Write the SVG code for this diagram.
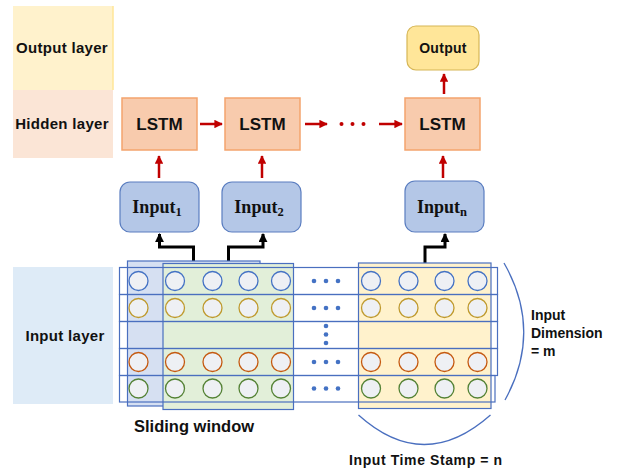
<svg xmlns="http://www.w3.org/2000/svg" width="617" height="469" viewBox="0 0 617 469">
<defs>
<marker id="ar" viewBox="0 0 10 10" refX="9" refY="5" markerWidth="3.4" markerHeight="3.4" orient="auto" markerUnits="strokeWidth"><path d="M0,0 L10,5 L0,10 z" fill="#c00000"/></marker>
<marker id="ab" viewBox="0 0 10 10" refX="9" refY="5" markerWidth="3" markerHeight="3" orient="auto" markerUnits="strokeWidth"><path d="M0,0 L10,5 L0,10 z" fill="#000"/></marker>
<style>
.lbl{font-family:"Liberation Sans",Arial,sans-serif;font-weight:bold;fill:#111}
.inp{font-family:"Liberation Serif","Times New Roman",serif;font-weight:bold;fill:#111}
.lstm{fill:#f8cbad;stroke:#f4a46d;stroke-width:1.5}
.ibox{fill:#b4c7e7;stroke:#5a7dc0;stroke-width:1.2}
.red{stroke:#c00000;stroke-width:2.5;fill:none;marker-end:url(#ar)}
.blk{stroke:#000;stroke-width:3;fill:none;marker-end:url(#ab)}
.row{fill:none;stroke:#4a6fbf;stroke-width:1.2}
.win{stroke:#4a6fbf;stroke-width:1.2}
.c{fill:#eef0f4;stroke-width:1.3}
.c1{stroke:#4472c4}.c2{stroke:#bf9a2e}.c4{stroke:#c55a11}.c5{stroke:#548235}
.dot{fill:#4472c4}
.brace{fill:none;stroke:#4a6fbf;stroke-width:1.3}
</style>
</defs>

<g id="bands">
<rect x="13" y="6" width="100" height="84" fill="#fff2cc"/>
<line x1="113" y1="6" x2="113" y2="90" stroke="#ffe699" stroke-width="1.5"/>
<rect x="13" y="90" width="100" height="68" fill="#fbe5d6"/>
<rect x="13" y="267" width="100" height="137" fill="#deebf7"/>
<text class="lbl" x="62" y="53" font-size="15" letter-spacing="0.3" text-anchor="middle">Output layer</text>
<text class="lbl" x="62" y="129" font-size="15" letter-spacing="0.3" text-anchor="middle">Hidden layer</text>
<text class="lbl" x="65" y="341" font-size="15" letter-spacing="0.3" text-anchor="middle">Input layer</text>
</g>

<g id="output">
<rect x="407" y="26" width="72" height="44" rx="9" fill="#ffe699" stroke="#d6b656" stroke-width="1.2"/>
<text class="lbl" x="443" y="53" font-size="14" letter-spacing="0.3" text-anchor="middle">Output</text>
</g>

<g id="lstm1"><rect class="lstm" x="122" y="98" width="75" height="52"/><text class="lbl" x="159.5" y="130" font-size="17" text-anchor="middle">LSTM</text></g>
<g id="lstm2"><rect class="lstm" x="225" y="98" width="75" height="52"/><text class="lbl" x="262.5" y="130" font-size="17" text-anchor="middle">LSTM</text></g>
<g id="lstm3"><rect class="lstm" x="405" y="98" width="75" height="52"/><text class="lbl" x="442.5" y="130" font-size="17" text-anchor="middle">LSTM</text></g>

<g id="input1"><rect class="ibox" x="120" y="182" width="79" height="50" rx="10"/><text class="inp" x="157" y="213" font-size="18" text-anchor="middle">Input<tspan font-size="12.5" dy="3">1</tspan></text></g>
<g id="input2"><rect class="ibox" x="222" y="182" width="79" height="50" rx="10"/><text class="inp" x="259" y="213" font-size="18" text-anchor="middle">Input<tspan font-size="12.5" dy="3">2</tspan></text></g>
<g id="inputn"><rect class="ibox" x="405" y="181" width="79" height="51" rx="10"/><text class="inp" x="442" y="213" font-size="18" text-anchor="middle">Input<tspan font-size="12.5" dy="3">n</tspan></text></g>

<g id="connectors">
<line class="red" x1="200" y1="124" x2="222" y2="124"/>
<line class="red" x1="305" y1="124" x2="327" y2="124"/>
<line class="red" x1="379" y1="124" x2="402" y2="124"/>
<line class="red" x1="444" y1="94" x2="444" y2="74"/>
<line class="red" x1="159" y1="178" x2="159" y2="156"/>
<line class="red" x1="262" y1="178" x2="262" y2="156"/>
<line class="red" x1="443" y1="178" x2="443" y2="156"/>
<polyline class="blk" points="193.5,261 193.5,247 159.5,247 159.5,234"/>
<polyline class="blk" points="228.5,263 228.5,247 263,247 263,234"/>
<polyline class="blk" points="425,263 425,247 445,247 445,234"/>
</g>
<g id="ellipsis" fill="#c00000">
<circle cx="341.5" cy="124" r="2"/><circle cx="352.5" cy="124" r="2"/><circle cx="363.5" cy="124" r="2"/>
</g>

<g id="grid">
<rect class="win" x="127.5" y="261" width="132.5" height="145" fill="#d6e0f2"/>
<rect class="win" x="163" y="263.5" width="130.5" height="146" fill="#e2efd9"/>
<rect class="win" x="358.5" y="263" width="132.5" height="145.5" fill="#fff2cc"/>
<rect class="row" x="119.5" y="267.5" width="378" height="27"/>
<rect class="row" x="119.5" y="294.5" width="378" height="27"/>
<rect class="row" x="119.5" y="321.5" width="378" height="27"/>
<rect class="row" x="119.5" y="348.5" width="378" height="27"/>
<rect class="row" x="119.5" y="375.5" width="375.5" height="26.5"/>

<g class="c c1">
<circle cx="138.5" cy="281" r="9.5"/><circle cx="175" cy="281" r="9.5"/><circle cx="212.5" cy="281" r="9.5"/><circle cx="248.5" cy="281" r="9.5"/><circle cx="281" cy="281" r="9.5"/>
<circle cx="371" cy="281" r="9.5"/><circle cx="408.5" cy="281" r="9.5"/><circle cx="444.5" cy="281" r="9.5"/><circle cx="477.5" cy="281" r="9.5"/>
</g>
<g class="c c2">
<circle cx="138.5" cy="308" r="9.5"/><circle cx="175" cy="308" r="9.5"/><circle cx="212.5" cy="308" r="9.5"/><circle cx="248.5" cy="308" r="9.5"/><circle cx="281" cy="308" r="9.5"/>
<circle cx="371" cy="308" r="9.5"/><circle cx="408.5" cy="308" r="9.5"/><circle cx="444.5" cy="308" r="9.5"/><circle cx="477.5" cy="308" r="9.5"/>
</g>
<g class="c c4">
<circle cx="138.5" cy="362" r="9.5"/><circle cx="175" cy="362" r="9.5"/><circle cx="212.5" cy="362" r="9.5"/><circle cx="248.5" cy="362" r="9.5"/><circle cx="281" cy="362" r="9.5"/>
<circle cx="371" cy="362" r="9.5"/><circle cx="408.5" cy="362" r="9.5"/><circle cx="444.5" cy="362" r="9.5"/><circle cx="477.5" cy="362" r="9.5"/>
</g>
<g class="c c5">
<circle cx="138.5" cy="388.5" r="9.5"/><circle cx="175" cy="388.5" r="9.5"/><circle cx="212.5" cy="388.5" r="9.5"/><circle cx="248.5" cy="388.5" r="9.5"/><circle cx="281" cy="388.5" r="9.5"/>
<circle cx="371" cy="388.5" r="9.5"/><circle cx="408.5" cy="388.5" r="9.5"/><circle cx="444.5" cy="388.5" r="9.5"/><circle cx="477.5" cy="388.5" r="9.5"/>
</g>
<g class="dot">
<circle cx="314" cy="281" r="2.3"/><circle cx="326" cy="281" r="2.3"/><circle cx="338" cy="281" r="2.3"/>
<circle cx="314" cy="308" r="2.3"/><circle cx="326" cy="308" r="2.3"/><circle cx="338" cy="308" r="2.3"/>
<circle cx="326" cy="326" r="2.3"/><circle cx="326" cy="334.5" r="2.3"/><circle cx="326" cy="343" r="2.3"/>
<circle cx="314" cy="362" r="2.3"/><circle cx="326" cy="362" r="2.3"/><circle cx="338" cy="362" r="2.3"/>
<circle cx="314" cy="388.5" r="2.3"/><circle cx="326" cy="388.5" r="2.3"/><circle cx="338" cy="388.5" r="2.3"/>
</g>
</g>

<g id="braces">
<path class="brace" d="M504,263 Q543,331 505,400"/>
<path class="brace" d="M358.5,415 Q424,474 490.5,415"/>
</g>

<g id="labels">
<text class="lbl" x="531" y="320" font-size="14">Input</text>
<text class="lbl" x="531" y="338" font-size="14">Dimension</text>
<text class="lbl" x="531" y="356" font-size="14">=  m</text>
<text class="lbl" x="134" y="432" font-size="16.5">Sliding window</text>
<text class="lbl" x="349" y="465" font-size="14" letter-spacing="0.6">Input Time Stamp = n</text>
</g>
</svg>
